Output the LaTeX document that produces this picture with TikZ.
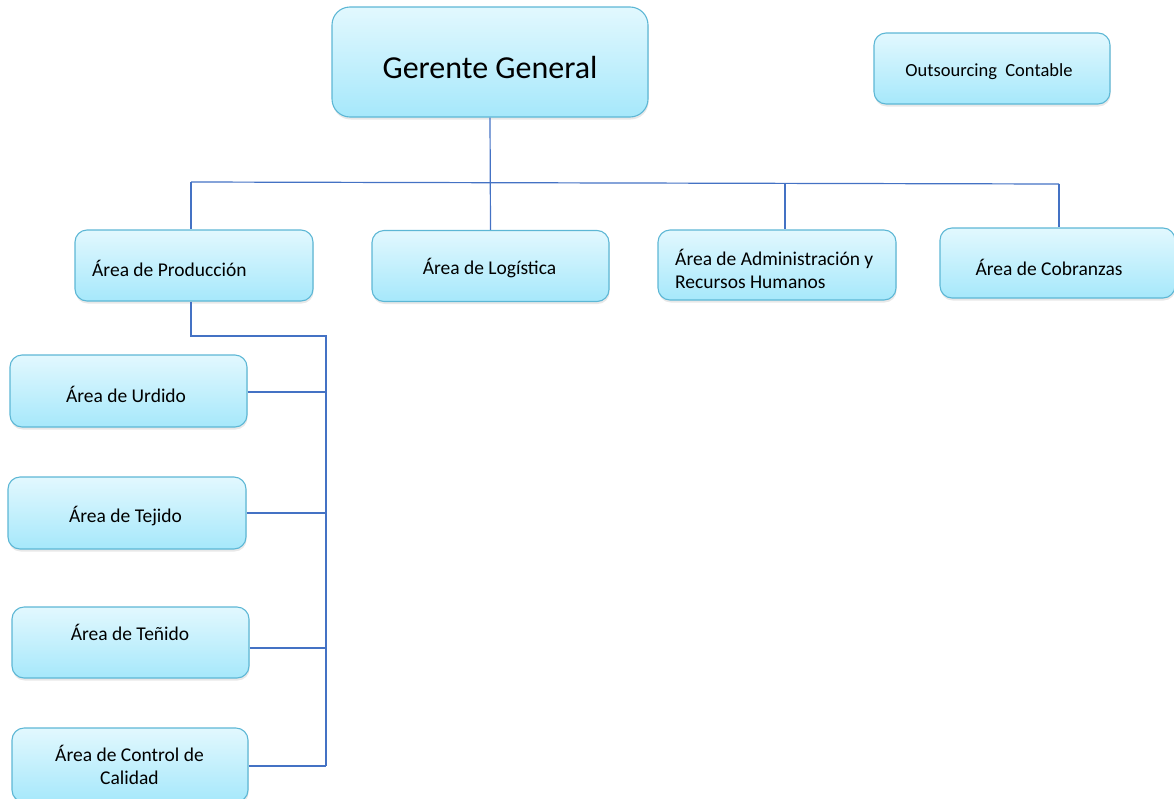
\documentclass[tikz,border=0pt]{standalone}
\usepackage{fontspec}
\setmainfont{Carlito}
\usetikzlibrary{shadows}
\definecolor{boxtop}{HTML}{E2F8FE}
\definecolor{boxbot}{HTML}{A6E8FB}
\definecolor{boxedge}{HTML}{5DB7D5}
\definecolor{wire}{HTML}{4472C4}
\tikzset{
  orgbox/.style={draw=boxedge, line width=1.1pt, rounded corners=12pt,
    top color=boxtop, bottom color=boxbot, inner sep=0pt,
    drop shadow={shadow xshift=0.6pt, shadow yshift=-2.5pt, fill=black!18}},
  txt/.style={font=\fontsize{19.5}{23}\selectfont, inner sep=0pt, align=center},
  wireline/.style={draw=wire, line width=1.2pt}
}
\begin{document}
\begin{tikzpicture}[x=1pt,y=-1pt]
\useasboundingbox (0,0) rectangle (1174,798);
% boxes
\node[orgbox, rounded corners=18pt, minimum width=316pt, minimum height=110pt] (gg) at (490,62) {};
\node[font=\fontsize{32}{38}\selectfont, inner sep=0pt] (ggt) at (490,68) {Gerente General};
\node[orgbox, minimum width=236pt, minimum height=71pt] (out) at (992,68.5) {};
\node[txt, font=\fontsize{18.5}{22}\selectfont] (outt) at (989,72) {Outsourcing\ \ Contable};

\node[orgbox, minimum width=238pt, minimum height=71pt] (prod) at (194,265.5) {};
\node[txt, anchor=west] (prodt) at (92,268) {Área de Producción};
\node[orgbox, minimum width=237pt, minimum height=71pt] (log) at (490.5,266) {};
\node[txt] (logt) at (489.5,268) {Área de Logística};
\node[orgbox, minimum width=238pt, minimum height=70pt] (adm) at (777,265) {};
\node[txt, anchor=west, align=left] (admt) at (675,269) {Área de Administración y\\Recursos Humanos};
\node[orgbox, minimum width=235pt, minimum height=70pt] (cob) at (1057.5,263) {};
\node[txt] (cobt) at (1049,267) {Área de Cobranzas};

\node[orgbox, minimum width=237pt, minimum height=72pt] (urd) at (128.5,391) {};
\node[txt] (urdt) at (126,394) {Área de Urdido};
\node[orgbox, minimum width=238pt, minimum height=72pt] (tej) at (127,513) {};
\node[txt] (tejt) at (125.5,516) {Área de Tejido};
\node[orgbox, minimum width=237pt, minimum height=71pt] (ten) at (130.5,642.5) {};
\node[txt] (tent) at (130,632) {Área de Teñido};
\node[orgbox, minimum width=236pt, minimum height=74pt] (cal) at (130,765) {};
\node[txt] (calt) at (129.5,765) {Área de Control de\\Calidad};

% connectors
\coordinate (busL) at (191,182);
\coordinate (busR) at (1059,184);
\coordinate (busA) at (785,183.3);
\draw[wireline] (gg.south) -- (log.north);
\draw[wireline] (busL) -- (busR);
\draw[wireline] (busL) -- (busL |- prod.north);
\draw[wireline] (busA) -- (busA |- adm.north);
\draw[wireline] (busR) -- (busR |- cob.north);

\coordinate (sub) at (191,336);
\coordinate (subR) at (326,336);
\coordinate (subB) at (326,766);
\draw[wireline] (sub |- prod.south) -- (sub) -- (subR) -- (subB);
\draw[wireline] (urd.east |- 0,392) -- (subR |- 0,392);
\draw[wireline] (tej.east |- 0,513) -- (subR |- 0,513);
\draw[wireline] (ten.east |- 0,648) -- (subR |- 0,648);
\draw[wireline] (cal.east |- subB) -- (subB);
\end{tikzpicture}
\end{document}
